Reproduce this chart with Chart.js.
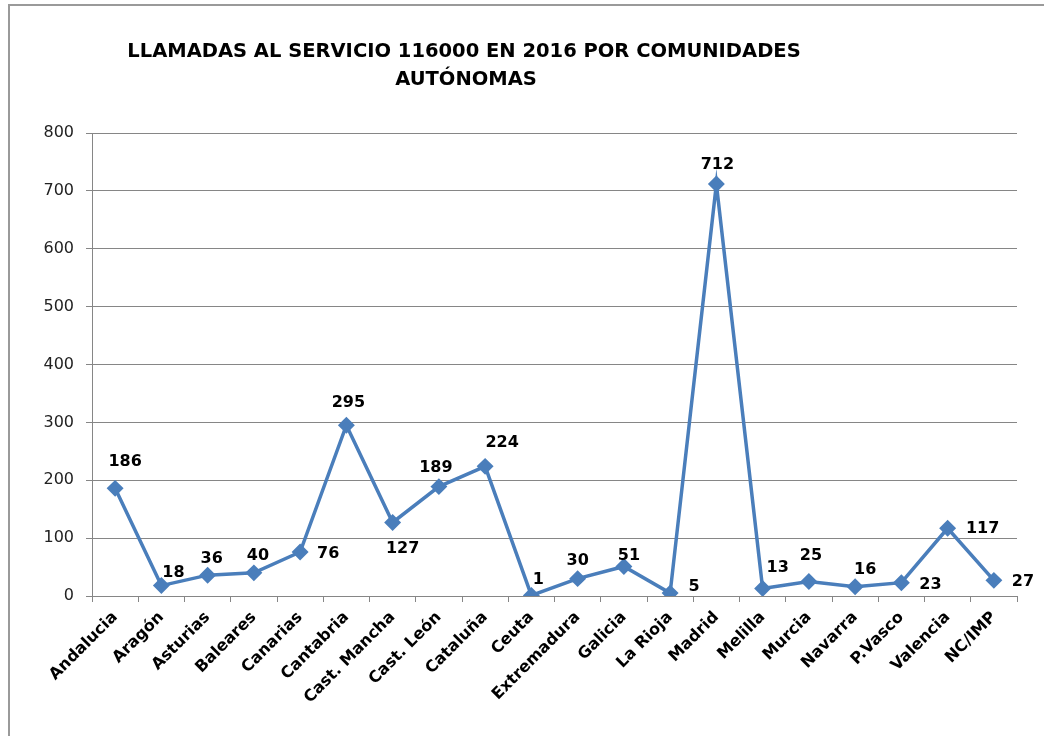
<!DOCTYPE html>
<html>
<head>
<meta charset="utf-8">
<script src="https://cdn.jsdelivr.net/npm/chart.js@4.4.1/dist/chart.umd.min.js"></script>
<style>
  body { margin: 0; background: #fff; }
  #wrap { width: 1044px; height: 736px; }
</style>
</head>
<body>
<div id="wrap"><canvas id="callsChart" width="1044" height="736"></canvas></div>
<script>
const regions = ["Andalucia", "Aragón", "Asturias", "Baleares", "Canarias", "Cantabria", "Cast. Mancha",
    "Cast. León", "Cataluña", "Ceuta", "Extremadura", "Galicia", "La Rioja", "Madrid", "Melilla",
    "Murcia", "Navarra", "P.Vasco", "Valencia", "NC/IMP"];
const calls = [186, 18, 36, 40, 76, 295, 127, 189, 224, 1, 30, 51, 5, 712, 13, 25, 16, 23, 117, 27];
const yTicks = [0, 100, 200, 300, 400, 500, 600, 700, 800];
const titleLines = ["LLAMADAS AL SERVICIO 116000 EN 2016 POR COMUNIDADES", "AUTÓNOMAS"];

// where each value label sits relative to its point (like the excel layout)
const labelShift = [
    [10, -27], [12, -13], [4, -16], [4, -17], [28, 2], [2, -22], [10, 26], [-3, -19], [17, -24], [7, -16],
    [0, -18], [5, -11], [24, -6], [1, -19], [15, -21], [2, -26], [10, -17], [29, 2], [35, 1], [29, 1]
];

const FONT = "'DejaVu Sans', sans-serif";
const gridGrey = "#868686";

const frameAndText = {
    id: "frameAndText",
    beforeDraw(chart) {
        const c = chart.ctx;
        c.save();
        c.fillStyle = "#fff";
        c.fillRect(0, 0, chart.width, chart.height);
        c.strokeStyle = "#9a9a9a";
        c.lineWidth = 2;
        c.strokeRect(9, 5, 1200, 900);
        c.restore();
    },
    afterDatasetsDraw(chart) {
        const c = chart.ctx;
        const pts = chart.getDatasetMeta(0).data;
        c.save();
        c.fillStyle = "#000";
        c.font = "bold 16px " + FONT;
        c.textAlign = "center";
        c.textBaseline = "middle";
        pts.forEach((p, i) => {
            c.fillText(String(calls[i]), p.x + labelShift[i][0], p.y + labelShift[i][1]);
        });
        c.font = "bold 19.5px " + FONT;
        c.fillText(titleLines[0], 464, 52);
        c.fillText(titleLines[1], 466, 80);
        c.restore();
    }
};

const ctx = document.getElementById("callsChart").getContext("2d");
const callsChart = new Chart(ctx, {
    type: "line",
    data: {
        labels: regions,
        datasets: [{
            label: "Llamadas",
            data: calls,
            borderColor: "#4A7EBB",
            backgroundColor: "#4A7EBB",
            borderWidth: 3.5,
            tension: 0,
            pointStyle: "rectRot",
            pointRadius: 6,
            pointHoverRadius: 6,
            pointBackgroundColor: "#4A7EBB",
            pointBorderColor: "#4A7EBB"
        }]
    },
    options: {
        responsive: false,
        animation: false,
        layout: { padding: { top: 133, right: 27, left: 0, bottom: 0 } },
        plugins: {
            legend: { display: false },
            title: { display: false },
            tooltip: { enabled: false }
        },
        scales: {
            x: {
                offset: true,
                afterFit: s => { s.height = 140; },
                grid: { offset: true, drawOnChartArea: false, drawTicks: true, tickLength: 6, color: gridGrey },
                border: { display: true, color: gridGrey, width: 1 },
                ticks: {
                    autoSkip: false, maxRotation: 45, minRotation: 45, padding: 6,
                    color: "#000", font: { family: FONT, size: 16, weight: "bold" }
                }
            },
            y: {
                min: 0,
                max: 800,
                afterFit: s => { s.width = 92; },
                afterBuildTicks: s => { s.ticks = yTicks.map(v => ({ value: v })); },
                grid: { color: gridGrey, tickLength: 6 },
                border: { display: true, color: gridGrey, width: 1 },
                ticks: { padding: 12, color: "#222", font: { family: FONT, size: 16 } }
            }
        }
    },
    plugins: [frameAndText]
});
</script>
</body>
</html>
